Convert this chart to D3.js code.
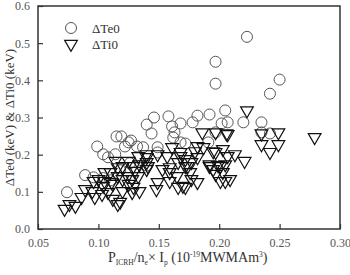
<!DOCTYPE html>
<html>
<head>
<meta charset="utf-8">
<script src="https://cdn.jsdelivr.net/npm/d3@7"></script>
<style>
  body { margin: 0; background: #fff; }
</style>
</head>
<body>
<svg id="chart" width="350" height="275"></svg>
<script>
// x = P_ICRH/ne x Ip, y = delta Te0 (keV)
const teX = [0.074, 0.223, 0.197, 0.197, 0.250, 0.242, 0.192, 0.205, 0.207, 0.220, 0.235, 0.242, 0.235, 0.202,
  0.197, 0.191, 0.182, 0.168, 0.178, 0.146, 0.158, 0.140, 0.144, 0.161, 0.125, 0.137, 0.149, 0.163, 0.115,
  0.119, 0.127, 0.099, 0.104, 0.108, 0.114, 0.122, 0.132, 0.096, 0.104, 0.110, 0.126, 0.140, 0.149, 0.172,
  0.118, 0.089, 0.168, 0.162];
const teY = [0.099, 0.517, 0.450, 0.391, 0.402, 0.364, 0.308, 0.319, 0.287, 0.287, 0.287, 0.257, 0.260, 0.284,
  0.260, 0.233, 0.305, 0.284, 0.287, 0.300, 0.303, 0.281, 0.257, 0.276, 0.233, 0.220, 0.220, 0.260, 0.249,
  0.249, 0.238, 0.222, 0.201, 0.193, 0.201, 0.222, 0.222, 0.139, 0.137, 0.131, 0.177, 0.171, 0.206, 0.230,
  0.158, 0.145, 0.233, 0.246];
// y = delta Ti0 (keV)
const tiX = [0.072, 0.076, 0.081, 0.086, 0.089, 0.095, 0.097, 0.103, 0.108, 0.112, 0.116, 0.120, 0.128, 0.096,
  0.100, 0.105, 0.111, 0.120, 0.114, 0.116, 0.120, 0.110, 0.125, 0.133, 0.140, 0.161, 0.180, 0.187, 0.141,
  0.159, 0.172, 0.177, 0.130, 0.165, 0.128, 0.177, 0.149, 0.159, 0.166, 0.125, 0.153, 0.148, 0.186, 0.206,
  0.235, 0.249, 0.235, 0.242, 0.249, 0.223, 0.279, 0.182, 0.172, 0.192, 0.197, 0.205, 0.207, 0.205, 0.221,
  0.197, 0.166, 0.195, 0.203, 0.199, 0.195, 0.209, 0.182, 0.182, 0.168, 0.174,
  0.197, 0.207, 0.168, 0.140, 0.149, 0.157, 0.213, 0.172, 0.192, 0.201, 0.140, 0.159, 0.176, 0.203, 0.201,
  0.170, 0.129, 0.134, 0.140, 0.105, 0.116, 0.124, 0.133, 0.104, 0.112, 0.129, 0.134, 0.118];
const tiY = [0.051, 0.064, 0.059, 0.083, 0.104, 0.099, 0.083, 0.091, 0.096, 0.078, 0.064, 0.099, 0.096, 0.126,
  0.131, 0.126, 0.123, 0.131, 0.180, 0.163, 0.166, 0.150, 0.180, 0.193, 0.198, 0.217, 0.206, 0.217, 0.166,
  0.163, 0.166, 0.177, 0.153, 0.139, 0.131, 0.131, 0.123, 0.126, 0.110, 0.118, 0.158, 0.104, 0.257, 0.254,
  0.254, 0.257, 0.225, 0.204, 0.225, 0.316, 0.244, 0.123, 0.110, 0.171, 0.145, 0.171, 0.193, 0.126, 0.180,
  0.204, 0.177, 0.206, 0.212, 0.169, 0.158, 0.131, 0.190, 0.220, 0.193, 0.166,
  0.257, 0.252, 0.204, 0.190, 0.198, 0.193, 0.198, 0.185, 0.166, 0.166, 0.158, 0.150, 0.150, 0.150, 0.126,
  0.113, 0.166, 0.171, 0.177, 0.150, 0.139, 0.139, 0.139, 0.113, 0.118, 0.110, 0.099, 0.070];
const xTicks = [0.05, 0.10, 0.15, 0.20, 0.25, 0.30];
const yTicks = [0.0, 0.1, 0.2, 0.3, 0.4, 0.5, 0.6];

const svg = d3.select("svg#chart");
const serif = "'Liberation Serif', 'Times New Roman', 'DejaVu Serif', serif";
const margin = { left: 38, right: 10, top: 6, bottom: 46 };
const width = 350 - margin.left - margin.right;
const height = 275 - margin.top - margin.bottom;
const ink = "#333";

const g = svg.append("g").attr("transform", `translate(${margin.left},${margin.top})`);

const x = d3.scaleLinear().domain([0.05, 0.30]).range([0, width]);
const y = d3.scaleLinear().domain([0, 0.6]).range([height, 0]);

// axes, ticks pointing inward
const xAxis = g.append("g")
  .attr("transform", `translate(0,${height})`)
  .call(d3.axisBottom(x).tickValues(xTicks).tickSizeInner(-5).tickSizeOuter(0).tickPadding(9).tickFormat(d3.format(".2f")));
const yAxis = g.append("g")
  .call(d3.axisLeft(y).tickValues(yTicks).tickSizeInner(-5).tickSizeOuter(0).tickPadding(8).tickFormat(d3.format(".1f")));
[xAxis, yAxis].forEach(a => {
  a.attr("font-family", null);
  a.select(".domain").remove();
  a.selectAll("line").attr("stroke", ink).attr("stroke-width", 1.2);
  a.selectAll("text").style("font-family", serif).style("font-size", "12px").attr("fill", "#555");
});

// frame
g.append("rect")
  .attr("width", width).attr("height", height)
  .attr("fill", "none").attr("stroke", ink).attr("stroke-width", 1.5);

const tri = d3.symbol().type(d3.symbolTriangle).size(70);

// Te circles
g.append("g").selectAll("circle")
  .data(teX.map((v, i) => [v, teY[i]]))
  .join("circle")
  .attr("cx", d => x(d[0]))
  .attr("cy", d => y(d[1]))
  .attr("r", 5.5)
  .attr("fill", "none")
  .attr("stroke", "#555")
  .attr("stroke-width", 1);

// Ti triangles (down)
g.append("g").selectAll("path")
  .data(tiX.map((v, i) => [v, tiY[i]]))
  .join("path")
  .attr("d", tri)
  .attr("transform", d => `translate(${x(d[0])},${y(d[1]) - 1}) rotate(180)`)
  .attr("fill", "none")
  .attr("stroke", "#111")
  .attr("stroke-width", 1.2);

// legend
const legend = g.append("g");
legend.append("circle").attr("cx", 33).attr("cy", 22).attr("r", 5.5)
  .attr("fill", "none").attr("stroke", "#555");
legend.append("path").attr("d", tri).attr("transform", "translate(33,38) rotate(180)")
  .attr("fill", "none").attr("stroke", "#111").attr("stroke-width", 1.2);
legend.append("text").attr("x", 54).attr("y", 27).style("font-family", serif).style("font-size", "13px").attr("fill", "#333").text("\u0394Te0");
legend.append("text").attr("x", 54).attr("y", 43).style("font-family", serif).style("font-size", "13px").attr("fill", "#333").text("\u0394Ti0");

// y label
svg.append("text")
  .attr("transform", `translate(14,${margin.top + height / 2}) rotate(-90)`)
  .attr("text-anchor", "middle")
  .style("font-family", serif)
  .style("font-size", "13px")
  .attr("fill", "#333")
  .text("\u0394Te0 (keV) & \u0394Ti0 (keV)");

// x label with sub/superscripts
const xl = svg.append("text")
  .attr("x", 108)
  .attr("y", 262)
  .style("font-family", serif)
  .style("font-size", "14px")
  .attr("fill", "#333");
xl.append("tspan").text("P");
xl.append("tspan").attr("dy", 3).style("font-size", "7.5px").text("ICRH");
xl.append("tspan").attr("dy", -3).text("/n");
xl.append("tspan").attr("dy", 3).style("font-size", "7.5px").text("e");
xl.append("tspan").attr("dy", -3).text("\u00d7  I");
xl.append("tspan").attr("dy", 3).style("font-size", "7.5px").text("p");
xl.append("tspan").attr("dy", -3).text(" (10");
xl.append("tspan").attr("dy", -5).style("font-size", "7.5px").text("-19");
xl.append("tspan").attr("dy", 5).text("MWMAm");
xl.append("tspan").attr("dy", -5).style("font-size", "7.5px").text("3");
xl.append("tspan").attr("dy", 5).text(")");
</script>
</body>
</html>
